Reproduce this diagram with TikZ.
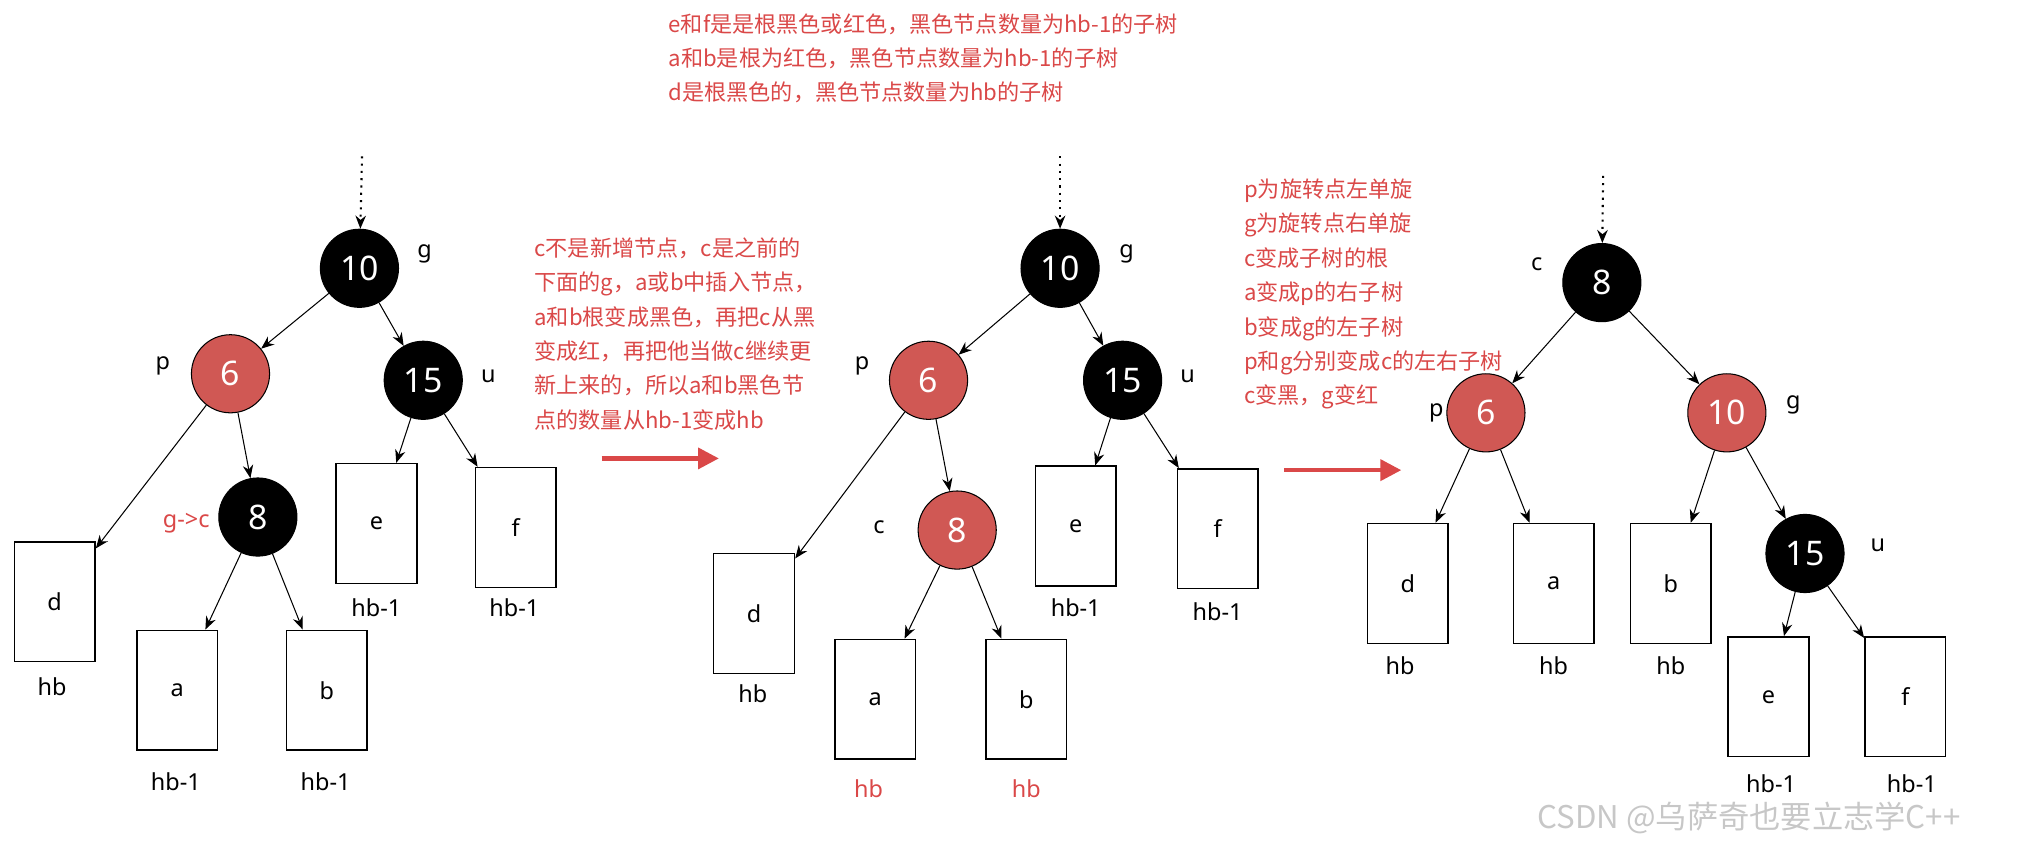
\documentclass[tikz,border=0pt]{standalone}
\usepackage{fontspec}
\setmainfont{Noto Sans}
\newfontfamily\cjk{Noto Sans CJK SC}
\usetikzlibrary{arrows.meta}
\definecolor{nodered}{RGB}{208,88,84}
\definecolor{txtred}{RGB}{218,72,72}
\tikzset{
  blk/.style={circle,fill=black,draw=black,minimum size=30pt,inner sep=0pt,text=white,font=\fontsize{13}{13}\selectfont},
  rd/.style={circle,fill=nodered,draw=black,minimum size=30pt,inner sep=0pt,text=white,font=\fontsize{13}{13}\selectfont},
  sub/.style={draw,semithick,minimum width=31pt,minimum height=46pt,inner sep=0pt,font=\fontsize{9}{9}\selectfont},
  lbl/.style={font=\fontsize{9}{9}\selectfont},
  edge/.style={-{Stealth[length=5pt,width=4pt]}},
  note/.style={text=txtred,font=\cjk\fontsize{8.5}{13.2}\selectfont,align=left,anchor=north west,inner sep=0pt},
  bigarr/.style={draw=txtred,line width=1.6pt,-{Triangle[length=8pt,width=8pt]}}
}
\begin{document}
\begin{tikzpicture}[x=0.5pt,y=-0.5pt]
\useasboundingbox (0,0) rectangle (1568,654);

%top note
\node[note] (topnote) at (513,10) {e和f是是根黑色或红色，黑色节点数量为hb-1的子树\\a和b是根为红色，黑色节点数量为hb-1的子树\\d是根黑色的，黑色节点数量为hb的子树};

%Tree 1
\coordinate (top1) at (278,120);
\node[blk] (g1) at (276,206) {10};
\node[rd] (p1) at (177,287) {6};
\node[blk] (u1) at (325,292) {15};
\node[blk] (c1) at (198,397) {8};
\node[lbl] at (326,195) {g};
\node[lbl] at (125,281) {p};
\node[lbl] at (375,289) {u};
\node[lbl,text=txtred] at (143,402) {g->c};
\node[sub] (d1) at (42,462) {d};
\node[sub] (a1) at (136,530) {a};
\node[sub] (b1) at (251,530) {b};
\node[sub] (e1) at (289,402) {e};
\node[sub] (f1) at (396,405) {f};
\node[lbl] at (40,527) {hb};
\node[lbl] at (135,600) {hb-\textbf{1}};
\node[lbl] at (250,600) {hb-1};
\node[lbl] at (289,467) {hb-1};
\node[lbl] at (395,467) {hb-1};
\draw[edge,dotted,thick] (top1) -- (g1);
\foreach \s/\t in {g1/p1,g1/u1,p1/d1,p1/c1,c1/a1,c1/b1,u1/e1,u1/f1}
  \draw[edge] (\s) -- (\t);

%first step
\node[note] (note1) at (410,182) {c不是新增节点，c是之前的\\下面的g，a或b中插入节点，\\a和b根变成黑色，再把c从黑\\变成红，再把他当做c继续更\\新上来的，所以a和b黑色节\\点的数量从hb-1变成hb};
\coordinate (s1) at (462,352);
\coordinate (t1) at (552,352);
\draw[bigarr] (s1) -- (t1);

%Tree 2
\coordinate (top2) at (814,120);
\node[blk] (g2) at (814,206) {10};
\node[rd] (p2) at (713,292) {6};
\node[blk] (u2) at (862,292) {15};
\node[rd] (c2) at (735,407) {8};
\node[lbl] at (865,195) {g};
\node[lbl] at (662,281) {p};
\node[lbl] at (912,289) {u};
\node[lbl] at (675,405) {c};
\node[sub] (d2) at (579,471) {d};
\node[sub] (a2) at (672,537) {a};
\node[sub] (b2) at (788,537) {b};
\node[sub] (e2) at (826,404) {e};
\node[sub] (f2) at (935,406) {f};
\node[lbl] at (578,533) {hb};
\node[lbl,text=txtred] at (667,606) {hb};
\node[lbl,text=txtred] at (788,606) {hb};
\node[lbl] at (826,467) {hb-1};
\node[lbl] at (935,470) {hb-1};
\draw[edge,dotted,thick] (top2) -- (g2);
\foreach \s/\t in {g2/p2,g2/u2,p2/d2,p2/c2,c2/a2,c2/b2,u2/e2,u2/f2}
  \draw[edge] (\s) -- (\t);

%second step
\node[note] (note2) at (955,137) {p为旋转点左单旋\\g为旋转点右单旋\\c变成子树的根\\a变成p的右子树\\b变成g的左子树\\p和g分别变成c的左右子树\\c变黑，g变红};
\coordinate (s2) at (986,361);
\coordinate (t2) at (1076,361);
\draw[bigarr] (s2) -- (t2);

%Tree 3
\coordinate (top3) at (1231,135);
\node[blk] (c3) at (1230,217) {8};
\node[rd] (p3) at (1141,317) {6};
\node[rd] (g3) at (1326,317) {10};
\node[blk] (u3) at (1386,425) {15};
\node[lbl] at (1180,203) {c};
\node[lbl] at (1103,317) {p};
\node[lbl] at (1377,311) {g};
\node[lbl] at (1442,419) {u};
\node[sub] (d3) at (1081,448) {d};
\node[sub] (a3) at (1193,448) {a};
\node[sub] (b3) at (1283,448) {b};
\node[sub] (e3) at (1358,535) {e};
\node[sub] (f3) at (1463,535) {f};
\node[lbl] at (1075,511) {hb};
\node[lbl] at (1193,511) {hb};
\node[lbl] at (1283,511) {hb};
\node[lbl] at (1360,602) {hb-1};
\node[lbl] at (1468,602) {hb-1};
\draw[edge,dotted,thick] (top3) -- (c3);
\foreach \s/\t in {c3/p3,c3/g3,p3/d3,p3/a3,g3/b3,g3/u3,u3/e3,u3/f3}
  \draw[edge] (\s) -- (\t);

%watermark
\node[text=black!22,font=\cjk\fontsize{12}{12}\selectfont] (mark) at (1343,628) {CSDN @乌萨奇也要立志学C++};
\end{tikzpicture}
\end{document}
